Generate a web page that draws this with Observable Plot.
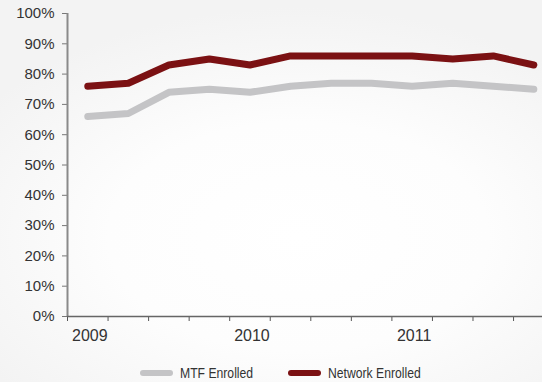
<!DOCTYPE html>
<html>
<head>
<meta charset="utf-8">
<script src="https://cdn.jsdelivr.net/npm/d3@7"></script>
<script src="https://cdn.jsdelivr.net/npm/@observablehq/plot@0.6"></script>
<style>
  html, body { margin: 0; padding: 0; }
  body {
    width: 542px; height: 382px; overflow: hidden;
    background: radial-gradient(ellipse 70% 60% at 55% 62%, #ffffff 0%, #fdfdfd 50%, #f3f3f3 100%);
    font-family: "Liberation Sans", Arial, sans-serif;
  }
  #chart svg { display: block; background: transparent; }
  .legend { position: absolute; top: 364px; left: 0; width: 542px; height: 17px; font-family: "Liberation Sans", Arial, sans-serif; font-size: 14px; color: #333; }
  .item { position: absolute; top: 0; display: flex; align-items: center; height: 17px; white-space: nowrap; }
  .sw { width: 33px; height: 6px; border-radius: 3px; margin-right: 7px; flex: none; }
  .lt { display: inline-block; transform: scaleX(0.87); transform-origin: left center; }
</style>
</head>
<body>
<div id="chart"></div>
<div class="legend">
  <div class="item" style="left:140px"><span class="sw" style="background:#c4c4c6"></span><span class="lt" id="l0"></span></div>
  <div class="item" style="left:288px"><span class="sw" style="background:#7b1113"></span><span class="lt" id="l1"></span></div>
</div>
<script>
const quarters = ["2009 Q1","2009 Q2","2009 Q3","2009 Q4","2010 Q1","2010 Q2","2010 Q3","2010 Q4","2011 Q1","2011 Q2","2011 Q3","2011 Q4"];
const years = ["2009","2010","2011"];
const seriesNames = ["MTF Enrolled","Network Enrolled"];
const mtf = [66, 67, 74, 75, 74, 76, 77, 77, 76, 77, 76, 75];
const network = [76, 77, 83, 85, 83, 86, 86, 86, 86, 85, 86, 83];
const yTicks = [0,10,20,30,40,50,60,70,80,90,100];

const rows = [];
quarters.forEach((q, i) => {
  rows.push({series: seriesNames[0], i: i + 0.5, v: mtf[i]});
  rows.push({series: seriesNames[1], i: i + 0.5, v: network[i]});
});
const boundaries = quarters.map((q, i) => i);
const yearPos = years.map(y => quarters.findIndex(q => q.startsWith(y)) + 0.5);

document.getElementById("l0").textContent = seriesNames[0];
document.getElementById("l1").textContent = seriesNames[1];

const chart = Plot.plot({
  width: 542,
  height: 345,
  marginLeft: 67,
  marginRight: 0,
  marginTop: 13,
  marginBottom: 29,
  style: {fontFamily: "'Liberation Sans', Arial, sans-serif", fontSize: "15px", color: "#333", background: "transparent", overflow: "visible"},
  x: {type: "linear", domain: [0, 11.714]},
  y: {domain: [0, 100]},
  color: {domain: seriesNames, range: ["#c4c4c6", "#7b1113"]},
  marks: [
    Plot.axisY({ticks: yTicks, tickFormat: d => d + "%", tickSize: 5, tickPadding: 8, stroke: "#777", fontSize: 15, label: null}),
    Plot.axisX({ticks: boundaries, tickFormat: () => "", tickSize: 5, stroke: "#555", label: null}),
    Plot.axisX({ticks: yearPos, tickFormat: (d, k) => years[k], tickSize: 0, tickPadding: 13, fontSize: 16, dx: 2, label: null}),
    Plot.ruleX([0], {stroke: "#8a8a8a", strokeWidth: 2}),
    Plot.ruleY([0], {stroke: "#666", strokeWidth: 1.5}),
    Plot.line(rows, {x: "i", y: "v", z: "series", stroke: "series", strokeWidth: 7, strokeLinejoin: "round", strokeLinecap: "round"})
  ]
});
document.getElementById("chart").appendChild(chart);
</script>
</body>
</html>
